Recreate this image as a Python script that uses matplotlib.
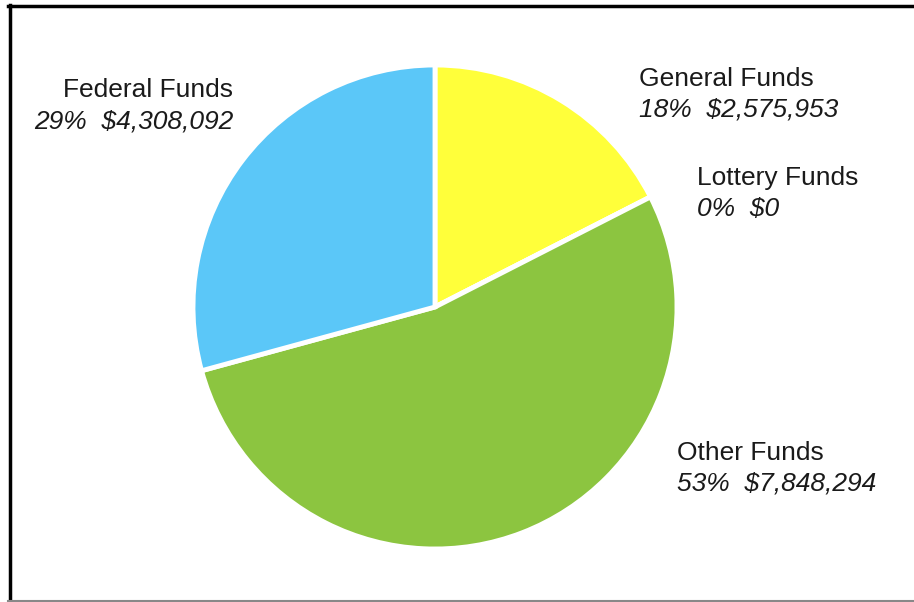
"""Fund sources pie chart, redrawn to out.png."""

import matplotlib

matplotlib.use("Agg")
import matplotlib.pyplot as plt  # noqa: E402
from matplotlib.lines import Line2D  # noqa: E402

# data, clockwise from 12 o'clock
names = ["General Funds", "Lottery Funds", "Other Funds", "Federal Funds"]
amounts = [2575953, 0, 7848294, 4308092]
pct_labels = ["18%", "0%", "53%", "29%"]
money_labels = ["$2,575,953", "$0", "$7,848,294", "$4,308,092"]

_COLORS = ["#FFFF3A", "#FFFFFF", "#8CC540", "#5BC7F8"]
_FONT = "Liberation Sans"
_TXT = "#1a1a1a"

W, H = 914, 602
fig = plt.figure(figsize=(W / 100, H / 100), dpi=100)
ax = fig.add_axes([0, 0, 1, 1])

cx, cy, r = 435, H - 307, 242
ax.pie(
    amounts, colors=_COLORS, startangle=90, counterclock=False,
    center=(cx, cy), radius=r, frame=True,
    wedgeprops={"edgecolor": "white", "linewidth": 3.5},
)
ax.set_xlim(0, W)
ax.set_ylim(0, H)
ax.set_aspect("auto")
ax.axis("off")

# label anchors in pixels from top-left: (x, name baseline, ha)
anchors = [(639, 86, "left"), (697, 185, "left"), (677, 460, "left"), (233, 97, "right")]
for (x, y, ha), name, pct, money in zip(anchors, names, pct_labels, money_labels):
    ax.text(x, H - y, name, ha=ha, va="baseline", fontsize=19, family=_FONT, color=_TXT)
    ax.text(x, H - y - 31, f"{pct}  {money}", ha=ha, va="baseline", fontsize=19,
            family=_FONT, style="italic", color=_TXT)

# frame around the chart
fig.add_artist(Line2D([9.5 / W, 9.5 / W], [1 - 5 / H, 1 - 601 / H], color="black", linewidth=2.5,
                      transform=fig.transFigure))
fig.add_artist(Line2D([8 / W, 1], [1 - 6 / H, 1 - 6 / H], color="black", linewidth=2.5,
                      transform=fig.transFigure))
fig.add_artist(Line2D([8 / W, 1], [1 - 600.5 / H, 1 - 600.5 / H], color="#888888", linewidth=1.5,
                      transform=fig.transFigure))

fig.savefig("out.png", dpi=100, facecolor="white")
plt.close(fig)
